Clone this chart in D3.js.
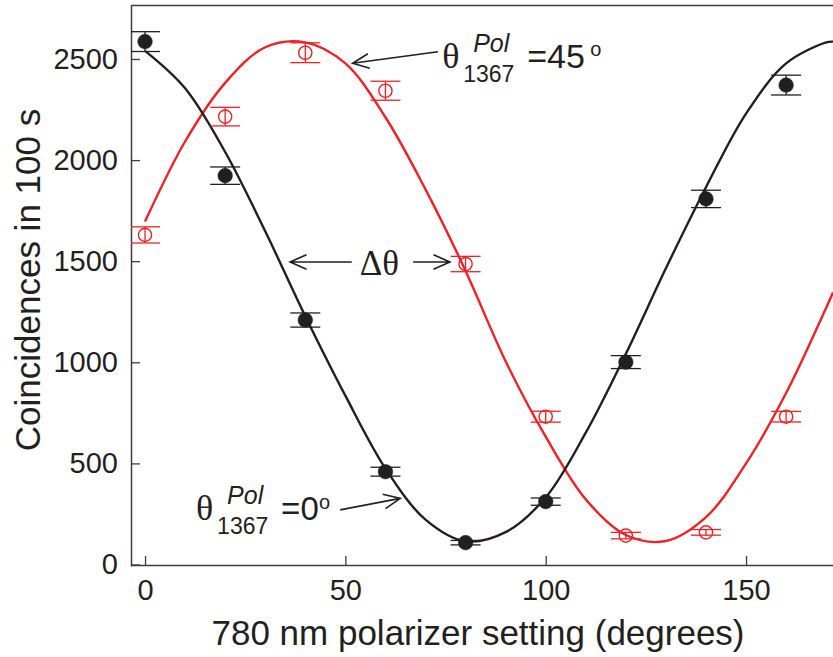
<!DOCTYPE html>
<html>
<head>
<meta charset="utf-8">
<script src="https://cdn.jsdelivr.net/npm/d3@7"></script>
<style>
  body { margin: 0; background: #fff; }
  svg { display: block; }
  text { font-family: "Liberation Sans", Arial, sans-serif; fill: #231f20; }
  .serif { font-family: "Liberation Serif", "Times New Roman", serif; }
</style>
</head>
<body>
<svg id="chart" width="833" height="657"></svg>
<script>
// measured points (polarizer angle in degrees, coincidences in 100 s)
var angles = [0, 20, 40, 60, 80, 100, 120, 140, 160];
var counts0 = [2586, 1923, 1209, 459, 108, 311, 1001, 1808, 2371];
var err0 = [49, 43, 35, 22, 11, 18, 32, 43, 49];
var counts45 = [1630, 2215, 2531, 2343, 1486, 731, 143, 159, 731];
var err45 = [40, 46, 49, 47, 38, 27, 16, 14, 26];

// fitted curves
var fitAngle = [0, 10, 20, 30, 40, 50, 60, 70, 80, 90, 100, 110, 120, 130, 140, 150, 160, 170, 171.7];
var fit0Counts = [2540, 2355, 2040, 1648, 1228, 835, 475, 222, 115, 160, 332, 652, 1042, 1465, 1866, 2230, 2478, 2582, 2586];
var fit45Counts = [1696, 2092, 2382, 2558, 2582, 2478, 2212, 1855, 1452, 1005, 632, 322, 146, 116, 234, 500, 848, 1270, 1345];

var xTicks = [0, 50, 100, 150];
var yTicks = [0, 500, 1000, 1500, 2000, 2500];

var black = "#231f20", red = "#ec2227", axisCol = "#3d3d3d";

var svg = d3.select("#chart"),
    width = +svg.attr("width"),
    height = +svg.attr("height");

var x = d3.scaleLinear().domain([-3.5, 171.7]).range([131, 833]);
var y = d3.scaleLinear().domain([-7.4, 2767]).range([566, 5]);

svg.append("clipPath").attr("id", "plotclip")
  .append("rect").attr("x", 131).attr("y", 5).attr("width", 702).attr("height", 561);

// axes
var yAxis = svg.append("g")
    .attr("transform", "translate(131,0)")
    .call(d3.axisLeft(y).tickValues(yTicks).tickFormat(d3.format("d"))
      .tickSizeInner(-9).tickSizeOuter(0).tickPadding(13));
var xAxis = svg.append("g")
    .attr("transform", "translate(0,565)")
    .call(d3.axisBottom(x).tickValues(xTicks).tickFormat(d3.format("d"))
      .tickSizeInner(-9).tickSizeOuter(0).tickPadding(14));
[yAxis, xAxis].forEach(function(a){
  a.select(".domain").attr("stroke", axisCol).attr("stroke-width", 1.5);
  a.selectAll(".tick line").attr("stroke", axisCol).attr("stroke-width", 1.3);
  a.selectAll(".tick text").style("font-size", "29px").attr("fill", black);
});

// top frame line
svg.append("line")
  .attr("x1", 131).attr("x2", width).attr("y1", 5.5).attr("y2", 5.5)
  .attr("stroke", axisCol).attr("stroke-width", 1.5);

// axis titles
svg.append("text")
  .attr("x", 478).attr("y", 645)
  .attr("text-anchor", "middle")
  .style("font-size", "35px")
  .text("780 nm polarizer setting (degrees)");
svg.append("text")
  .attr("transform", "translate(40,280) rotate(-90)")
  .attr("text-anchor", "middle")
  .style("font-size", "35px")
  .text("Coincidences in 100 s");

// fit curves
var line = d3.line()
  .x(function(d){ return x(d[0]) })
  .y(function(d){ return y(d[1]) })
  .curve(d3.curveCatmullRom.alpha(0.5));

var plot = svg.append("g").attr("clip-path", "url(#plotclip)");

plot.append("path")
  .datum(d3.zip(fitAngle, fit45Counts))
  .attr("d", line)
  .attr("fill", "none").attr("stroke", red).attr("stroke-width", 2.4);
plot.append("path")
  .datum(d3.zip(fitAngle, fit0Counts))
  .attr("d", line)
  .attr("fill", "none").attr("stroke", black).attr("stroke-width", 2.4);

// error bars + markers
function drawSeries(vals, errs, col, filled) {
  var g = plot.append("g");
  var pts = angles.map(function(a, i){ return {a: a, v: vals[i], e: errs[i]} });
  var bars = g.selectAll(".bar").data(pts).enter().append("g");
  bars.append("line")
    .attr("x1", function(d){ return x(d.a) }).attr("x2", function(d){ return x(d.a) })
    .attr("y1", function(d){ return y(d.v - d.e) }).attr("y2", function(d){ return y(d.v + d.e) })
    .attr("stroke", col).attr("stroke-width", 1.3);
  [-1, 1].forEach(function(s){
    bars.append("line")
      .attr("x1", function(d){ return x(d.a) - 15 }).attr("x2", function(d){ return x(d.a) + 15 })
      .attr("y1", function(d){ return y(d.v + s * d.e) }).attr("y2", function(d){ return y(d.v + s * d.e) })
      .attr("stroke", col).attr("stroke-width", 1.3);
  });
  g.selectAll("circle").data(pts).enter().append("circle")
    .attr("cx", function(d){ return x(d.a) })
    .attr("cy", function(d){ return y(d.v) })
    .attr("r", filled ? 7.3 : 6.6)
    .attr("fill", filled ? col : "none")
    .attr("stroke", col)
    .attr("stroke-width", filled ? 0.5 : 1.4);
}
drawSeries(counts45, err45, red, false);
drawSeries(counts0, err0, black, true);

// annotations
function arrow(a1, v1, a2, v2) {
  var x1 = x(a1), y1 = y(v1), x2 = x(a2), y2 = y(v2);
  var ang = Math.atan2(y1 - y2, x1 - x2), len = 18, spread = 0.42;
  svg.append("path")
    .attr("d", "M" + x1 + "," + y1 + "L" + x2 + "," + y2 +
      "M" + (x2 + len * Math.cos(ang + spread)) + "," + (y2 + len * Math.sin(ang + spread)) +
      "L" + x2 + "," + y2 +
      "L" + (x2 + len * Math.cos(ang - spread)) + "," + (y2 + len * Math.sin(ang - spread)))
    .attr("fill", "none").attr("stroke", black).attr("stroke-width", 1.6);
}

function thetaLabel(a, v, value, valSize, oX, oY) {
  var g = svg.append("g").attr("transform", "translate(" + x(a) + "," + y(v) + ")");
  g.append("text").attr("class", "serif").attr("x", -1).style("font-size", "36px").text("\u03b8");
  g.append("text").attr("x", 30).attr("y", -16).style("font-size", "25px").style("font-style", "italic").text("Pol");
  g.append("text").attr("x", 20).attr("y", 14).style("font-size", "23px").text("1367");
  g.append("text").attr("x", 84).attr("y", 0).style("font-size", valSize).text(value);
  g.append("text").attr("x", oX).attr("y", oY).style("font-size", "20px").text("o");
}

arrow(73.1, 2536, 51.8, 2479);
thetaLabel(74.4, 2455, "=45", "34px", 147, -12);

arrow(48.7, 270, 63.7, 327);
thetaLabel(13, 220, "=0", "33px", 122, -11);

arrow(51.6, 1496, 36.2, 1496);
arrow(66.9, 1496, 76.1, 1496);
svg.append("text")
  .attr("class", "serif")
  .attr("x", x(53.6)).attr("y", y(1433))
  .style("font-size", "35px")
  .text("\u0394\u03b8");
</script>
</body>
</html>
